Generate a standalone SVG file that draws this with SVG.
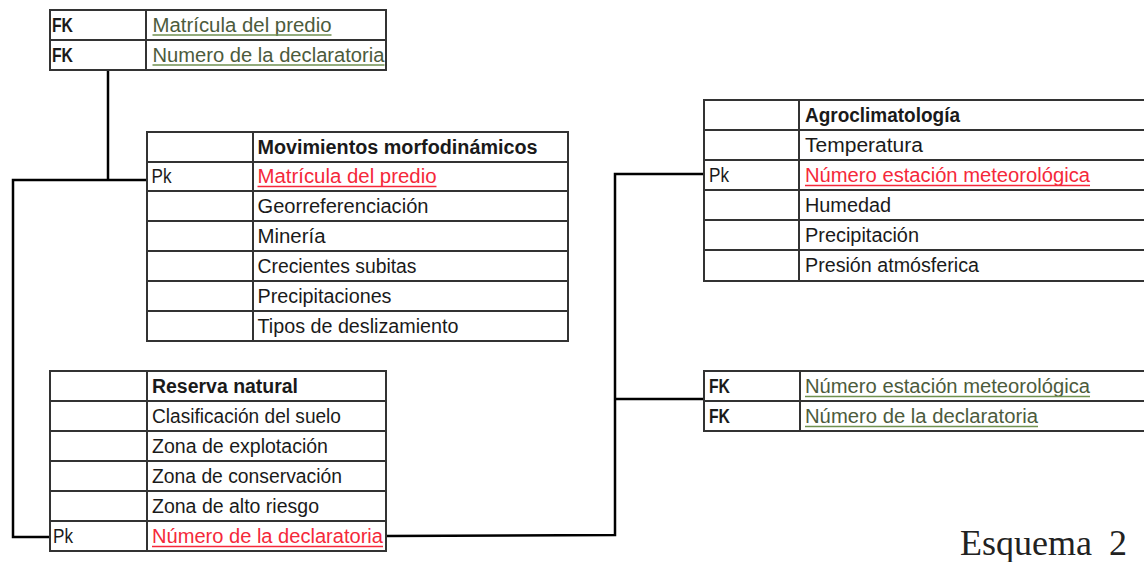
<svg xmlns="http://www.w3.org/2000/svg" width="1144" height="562" viewBox="0 0 1144 562">
<style>
.cell{fill:#fff;stroke:#333;stroke-width:2}
.grid{stroke:#333;stroke-width:2;fill:none}
.t{font-family:"Liberation Sans",Arial,sans-serif;font-size:20px;fill:#1a1a1a}
.b{font-weight:bold}
.red{fill:#f5283a}
.grn{fill:#4c5b3c}
.ured{stroke:#f5283a;stroke-width:1.5}
.ugrn{stroke:#6f9150;stroke-width:1.5}
.conn{stroke:#000;stroke-width:2.5;fill:none}
.cap{font-family:"Liberation Serif","Times New Roman",serif;font-size:36px;fill:#222}
</style>
<rect width="1144" height="562" fill="#fff"/>

<g id="connectors">
<path class="conn" d="M108,70 V180"/>
<path class="conn" d="M147,180 H13 V537 H50"/>
<path class="conn" d="M386,536 L615,535 V174 H704"/>
<path class="conn" d="M615,399 H704"/>
</g>

<g id="fk-predio-declaratoria">
<rect class="cell" x="50" y="10" width="336" height="60"/>
<path class="grid" d="M146,10 V70 M50,40 H386"/>
<text class="t b" x="52" y="31.5" textLength="21" lengthAdjust="spacingAndGlyphs">FK</text>
<text class="t grn" x="152.5" y="31.5" textLength="179" lengthAdjust="spacingAndGlyphs">Matrícula del predio</text>
<line class="ugrn" x1="152.5" y1="35" x2="331.5" y2="35"/>
<text class="t b" x="52" y="61.5" textLength="21" lengthAdjust="spacingAndGlyphs">FK</text>
<text class="t grn" x="152.5" y="61.5" textLength="232" lengthAdjust="spacingAndGlyphs">Numero de la declaratoria</text>
<line class="ugrn" x1="152.5" y1="65" x2="384.5" y2="65"/>
</g>

<g id="movimientos-morfodinamicos">
<rect class="cell" x="147" y="132" width="421" height="209"/>
<path class="grid" d="M253,132 V341 M147,162 H568 M147,191 H568 M147,221 H568 M147,251 H568 M147,281 H568 M147,311 H568"/>
<text class="t b" x="257.5" y="153.5" textLength="280" lengthAdjust="spacingAndGlyphs">Movimientos morfodinámicos</text>
<text class="t" x="151.5" y="183" textLength="20" lengthAdjust="spacingAndGlyphs">Pk</text>
<text class="t red" x="257.5" y="183" textLength="179" lengthAdjust="spacingAndGlyphs">Matrícula del predio</text>
<line class="ured" x1="257.5" y1="186.5" x2="436.5" y2="186.5"/>
<text class="t" x="257.5" y="213" textLength="171" lengthAdjust="spacingAndGlyphs">Georreferenciación</text>
<text class="t" x="257.5" y="243" textLength="68" lengthAdjust="spacingAndGlyphs">Minería</text>
<text class="t" x="257.5" y="273" textLength="159" lengthAdjust="spacingAndGlyphs">Crecientes subitas</text>
<text class="t" x="257.5" y="303" textLength="134" lengthAdjust="spacingAndGlyphs">Precipitaciones</text>
<text class="t" x="257.5" y="333" textLength="201" lengthAdjust="spacingAndGlyphs">Tipos de deslizamiento</text>
</g>

<g id="reserva-natural">
<rect class="cell" x="50" y="371" width="336" height="180"/>
<path class="grid" d="M147,371 V551 M50,401 H386 M50,431 H386 M50,461 H386 M50,491 H386 M50,521 H386"/>
<text class="t b" x="152" y="393" textLength="146" lengthAdjust="spacingAndGlyphs">Reserva natural</text>
<text class="t" x="152" y="423" textLength="189" lengthAdjust="spacingAndGlyphs">Clasificación del suelo</text>
<text class="t" x="152" y="453" textLength="176" lengthAdjust="spacingAndGlyphs">Zona de explotación</text>
<text class="t" x="152" y="483" textLength="190" lengthAdjust="spacingAndGlyphs">Zona de conservación</text>
<text class="t" x="152" y="513" textLength="167" lengthAdjust="spacingAndGlyphs">Zona de alto riesgo</text>
<text class="t" x="53" y="543" textLength="20" lengthAdjust="spacingAndGlyphs">Pk</text>
<text class="t red" x="152" y="543" textLength="231" lengthAdjust="spacingAndGlyphs">Número de la declaratoria</text>
<line class="ured" x1="152" y1="546.5" x2="383" y2="546.5"/>
</g>

<g id="agroclimatologia">
<rect class="cell" x="704" y="100" width="450" height="181"/>
<path class="grid" d="M799,100 V281 M704,130 H1154 M704,160 H1154 M704,190 H1154 M704,220 H1154 M704,250 H1154"/>
<text class="t b" x="805" y="122" textLength="155" lengthAdjust="spacingAndGlyphs">Agroclimatología</text>
<text class="t" x="805" y="152" textLength="118" lengthAdjust="spacingAndGlyphs">Temperatura</text>
<text class="t" x="709" y="182" textLength="20" lengthAdjust="spacingAndGlyphs">Pk</text>
<text class="t red" x="805" y="182" textLength="285" lengthAdjust="spacingAndGlyphs">Número estación meteorológica</text>
<line class="ured" x1="805" y1="185.5" x2="1090" y2="185.5"/>
<text class="t" x="805" y="212" textLength="86" lengthAdjust="spacingAndGlyphs">Humedad</text>
<text class="t" x="805" y="242" textLength="114" lengthAdjust="spacingAndGlyphs">Precipitación</text>
<text class="t" x="805" y="272" textLength="174" lengthAdjust="spacingAndGlyphs">Presión atmósferica</text>
</g>

<g id="fk-estacion-declaratoria">
<rect class="cell" x="704" y="371" width="450" height="60"/>
<path class="grid" d="M800,371 V431 M704,401 H1154"/>
<text class="t b" x="709" y="393" textLength="21" lengthAdjust="spacingAndGlyphs">FK</text>
<text class="t grn" x="805" y="393" textLength="285" lengthAdjust="spacingAndGlyphs">Número estación meteorológica</text>
<line class="ugrn" x1="805" y1="396.5" x2="1090" y2="396.5"/>
<text class="t b" x="709" y="423" textLength="21" lengthAdjust="spacingAndGlyphs">FK</text>
<text class="t grn" x="805" y="423" textLength="233" lengthAdjust="spacingAndGlyphs">Número de la declaratoria</text>
<line class="ugrn" x1="805" y1="426.5" x2="1038" y2="426.5"/>
</g>

<text class="cap" x="960" y="555">Esquema<tspan x="1109">2</tspan></text>
</svg>
